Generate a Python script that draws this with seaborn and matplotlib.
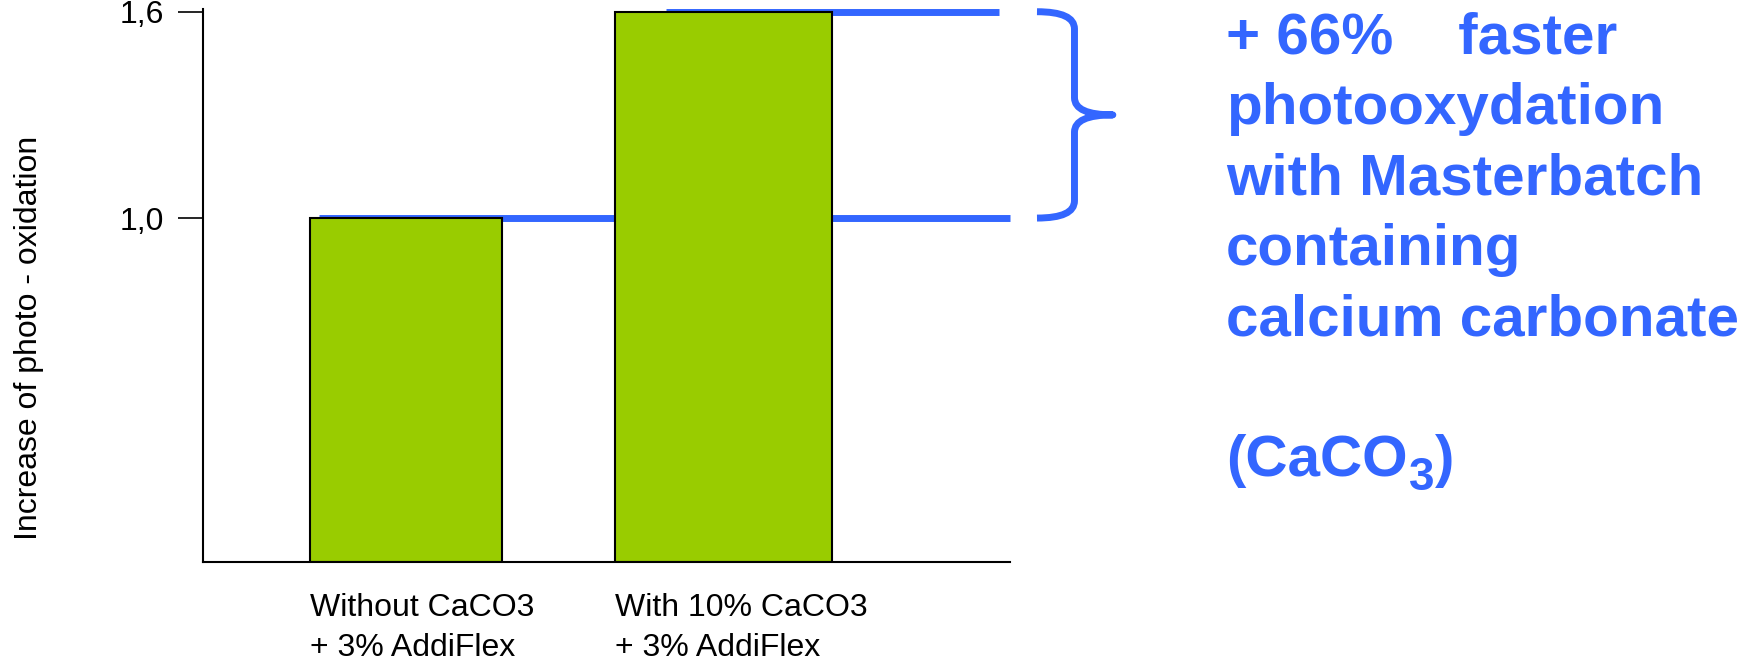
import matplotlib
matplotlib.use("Agg")
import matplotlib.pyplot as plt
import matplotlib.transforms as mtransforms
from matplotlib.path import Path
from matplotlib.patches import PathPatch
import pandas as pd
import seaborn as sns

# data
samples = ["Without CaCO3\n+ 3% AddiFlex", "With 10% CaCO3\n+ 3% AddiFlex"]
oxidation = [1.0, 1.6]
bar_widths = [0.605, 0.683]
ytick_values = [1.0, 1.6]
ytick_labels = ["1,0", "1,6"]
note_lines = ["+ 66%    faster", "photooxydation", "with Masterbatch", "containing",
              "calcium carbonate"]
formula = ["(CaCO", "3", ")"]

GREEN = "#99CC00"
BLUE = "#3366FF"

sns.set_style("white")
plt.rcParams["font.family"] = ["Liberation Sans", "DejaVu Sans"]
plt.rcParams["text.color"] = "black"
plt.rcParams["axes.labelcolor"] = "black"
plt.rcParams["ytick.color"] = "black"

df = pd.DataFrame({"sample": samples, "oxidation": oxidation})

fig = plt.figure(figsize=(17.6, 6.6), dpi=100)
ax = fig.add_axes([0.1151, 0.1485, 0.4588, 0.8374])
sns.barplot(data=df, x="sample", y="oxidation", order=samples, color=GREEN, saturation=1,
            edgecolor="black", linewidth=1.5, width=0.64, ax=ax, zorder=2)

# the two bars are not equally wide in the original
for patch, w in zip(ax.patches, bar_widths):
    c = patch.get_x() + patch.get_width() / 2
    patch.set_width(w)
    patch.set_x(c - w / 2)

# blue reference lines at the bar heights (behind the bars)
ax.hlines(oxidation[0], -0.276, 1.9005, color=BLUE, lw=5, zorder=1, clip_on=False, capstyle="butt")
ax.hlines(oxidation[1], 0.818, 1.866, color=BLUE, lw=5, zorder=1, clip_on=False, capstyle="butt")

ax.set_xlim(-0.641, 1.9005)
ax.set_ylim(0, 1.607)
ax.set_xticks([])
ax.set_xlabel("")
ax.set_yticks(ytick_values, ytick_labels)
ax.tick_params(axis="y", left=True, length=18, width=1.2, pad=10, labelsize=23,
               color="black", labelcolor="black", direction="out")
ax.set_ylabel("Increase of photo - oxidation", fontsize=23, color="black")
ax.yaxis.set_label_coords(-0.197, 0.4056)

sns.despine(ax=ax)
for side in ["left", "bottom"]:
    ax.spines[side].set_color("black")
    ax.spines[side].set_linewidth(1.5)

# category labels, left aligned on each bar
trans = mtransforms.blended_transform_factory(ax.transData, ax.transAxes)
for patch, label in zip(ax.patches, samples):
    ax.text(patch.get_x(), -0.0568, label, transform=trans, ha="left", va="top",
            fontsize=23, linespacing=1.4, color="black")

# curly brace between the two levels
bt = mtransforms.blended_transform_factory(fig.transFigure, ax.transData)
x0, x1, x2 = 0.5892, 0.6105, 0.6323
yt, yb = oxidation[1], oxidation[0]
ym = (yt + yb) / 2
r = 0.05
verts = [(x0, yt), (x1, yt), (x1, yt - r), (x1, ym + r), (x1, ym), (x2, ym),
         (x1, ym), (x1, ym - r), (x1, yb + r), (x1, yb), (x0, yb)]
codes = [Path.MOVETO, Path.CURVE3, Path.CURVE3, Path.LINETO, Path.CURVE3, Path.CURVE3,
         Path.CURVE3, Path.CURVE3, Path.LINETO, Path.CURVE3, Path.CURVE3]
brace = PathPatch(Path(verts, codes), transform=bt, fill=False, edgecolor=BLUE, lw=5,
                  joinstyle="round", capstyle="butt", clip_on=False)
fig.add_artist(brace)

# note on the right
W, H = 1760, 660
for i, line in enumerate(note_lines):
    baseline = 54 + i * 70.4
    fig.text(1226 / W, 1 - baseline / H, line, ha="left", va="baseline",
             fontsize=42, fontweight="bold", color=BLUE)

# (CaCO3) with a large, dropped subscript
renderer = fig.canvas.get_renderer()
base = 54 + 6 * 70.4
x = 1226
for part, size, drop in zip(formula, [42, 33, 42], [0, 14, 0]):
    t = fig.text(x / W, 1 - (base + drop) / H, part, ha="left", va="baseline",
                 fontsize=size, fontweight="bold", color=BLUE)
    x = t.get_window_extent(renderer).x1 + 1

fig.savefig("out.png", dpi=100)
plt.close(fig)
